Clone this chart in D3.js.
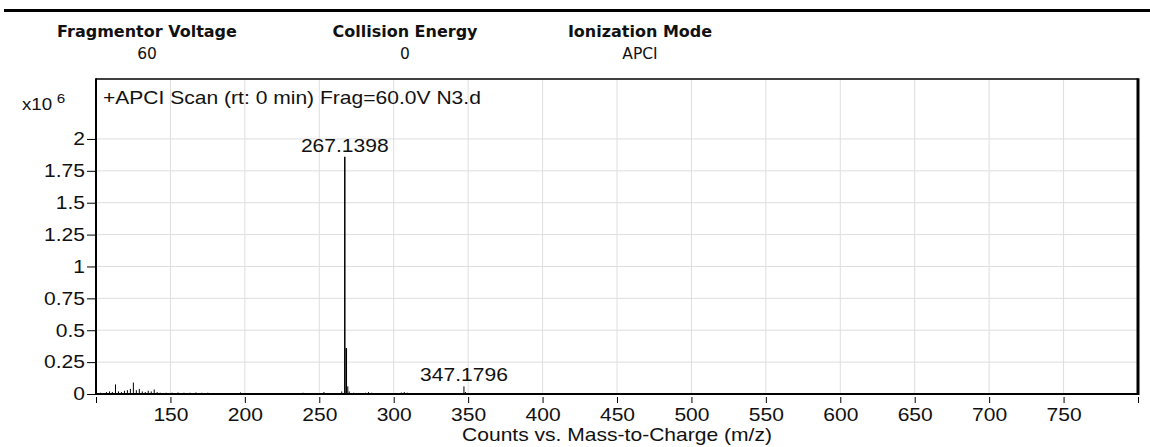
<!DOCTYPE html>
<html>
<head>
<meta charset="utf-8">
<script src="https://cdn.jsdelivr.net/npm/d3@7"></script>
<style>
body { margin: 0; background: #fff; }
text { font-family: "Liberation Sans", Arial, sans-serif; fill: #111; }
.head { font-family: "DejaVu Sans", Verdana, sans-serif; }
</style>
</head>
<body>
<svg id="svg" width="1150" height="447"></svg>
<script>
// acquisition parameters shown above the spectrum
var headNames  = ["Fragmentor Voltage", "Collision Energy", "Ionization Mode"],
    headValues = ["60", "0", "APCI"];

// centroid peaks: m/z and abundance (x10^6 counts)
var mz = [103.1, 107.0, 109.1, 111.0, 113.1, 115.1, 117.1, 119.1, 121.1, 123.1,
          125.1, 127.1, 129.1, 131.1, 133.1, 135.1, 137.1, 139.1, 141.1, 143.1,
          147.1, 151.1, 155.1, 159.1, 163.1, 167.1, 171.1, 175.1, 185.1, 197.1,
          239.1, 253.1, 265.1, 267.1398, 268.14, 269.14, 270.1, 273.1, 281.1, 283.1,
          285.1, 305.1, 307.1, 309.1, 347.1796, 348.2];
var counts = [0.010, 0.015, 0.020, 0.015, 0.075, 0.020, 0.015, 0.025, 0.030, 0.040,
              0.090, 0.030, 0.040, 0.020, 0.015, 0.025, 0.020, 0.035, 0.015, 0.010,
              0.010, 0.010, 0.012, 0.010, 0.010, 0.012, 0.010, 0.010, 0.008, 0.012,
              0.010, 0.015, 0.020, 1.860, 0.360, 0.060, 0.020, 0.010, 0.010, 0.015,
              0.010, 0.012, 0.015, 0.010, 0.060, 0.015];
var labelled = ["267.1398", "347.1796"];

var xTicks = [100, 150, 200, 250, 300, 350, 400, 450, 500, 550, 600, 650, 700, 750, 800],
    yTicks = [0, 0.25, 0.5, 0.75, 1, 1.25, 1.5, 1.75, 2];

var title  = "+APCI Scan (rt: 0 min) Frag=60.0V N3.d",
    xTitle = "Counts vs. Mass-to-Charge (m/z)";

var svg = d3.select("#svg");

var x0 = 96, x1 = 1138,
    y0 = 79, y1 = 394,
    sx = 1.17;   // the original text is drawn a bit wide

var x = d3.scaleLinear().domain([100, 800]).range([x0, x1]),
    y = d3.scaleLinear().domain([0, 2.47]).range([y1, y0]);

// header
svg.append("line").attr("x1", 4).attr("x2", 1150).attr("y1", 10.5).attr("y2", 10.5)
    .attr("stroke", "#000").attr("stroke-width", 3);
var hx = [147, 405, 640];
var head = svg.selectAll(".hd").data(headNames).enter().append("g")
    .attr("transform", (d, i) => "translate(" + hx[i] + ",0)");
head.append("text").attr("class", "head").attr("y", 37).attr("text-anchor", "middle")
    .attr("font-size", 16).attr("font-weight", "bold").text(d => d);
head.append("text").attr("class", "head").attr("y", 59).attr("text-anchor", "middle")
    .attr("font-size", 15.5).text((d, i) => headValues[i]);

// grid
svg.append("g").selectAll("line").data(xTicks.slice(1, -1)).enter().append("line")
    .attr("x1", d => x(d)).attr("x2", d => x(d)).attr("y1", y0).attr("y2", y1)
    .attr("stroke", "#dedede").attr("stroke-width", 1);
svg.append("g").selectAll("line").data(yTicks.slice(1)).enter().append("line")
    .attr("x1", x0).attr("x2", x1).attr("y1", d => y(d)).attr("y2", d => y(d))
    .attr("stroke", "#dedede").attr("stroke-width", 1);

// peaks
svg.append("g").selectAll("line").data(mz).enter().append("line")
    .attr("x1", d => x(d)).attr("x2", d => x(d))
    .attr("y1", y(0)).attr("y2", (d, i) => y(counts[i]))
    .attr("stroke", "#000").attr("stroke-width", (d, i) => counts[i] > 0.3 ? 1.5 : 1);

// peak labels
svg.append("g").selectAll("text").data(labelled).enter().append("text")
    .attr("transform", d => "translate(" + x(+d) + "," + (y(counts[mz.indexOf(+d)]) - 5) + ") scale(" + sx + ",1)")
    .attr("text-anchor", "middle").attr("font-size", 18).text(d => d);

// frame
svg.append("line").attr("x1", x0).attr("x2", x1).attr("y1", y0).attr("y2", y0).attr("stroke", "#000").attr("stroke-width", 1.5);
svg.append("line").attr("x1", x1).attr("x2", x1).attr("y1", y0 - 0.75).attr("y2", y1 + 1).attr("stroke", "#000").attr("stroke-width", 3);

// axes
var xa = svg.append("g").attr("transform", "translate(0," + (y1 + 3) + ")")
    .call(d3.axisBottom(x).tickValues(xTicks).tickSize(6).tickSizeOuter(0).tickPadding(5)
        .tickFormat(d => (d === 100 || d === 800) ? "" : d));
xa.select(".domain").remove();
xa.selectAll("line").attr("stroke", "#000");
xa.selectAll("text").attr("font-size", 18).attr("font-family", null).attr("fill", "#111")
    .attr("transform", "scale(" + sx + ",1)");

var ya = svg.append("g").attr("transform", "translate(" + x0 + ",0)")
    .call(d3.axisLeft(y).tickValues(yTicks).tickSize(9).tickSizeOuter(0).tickFormat(d => d));
ya.select(".domain").remove();
ya.selectAll("line").attr("stroke", "#000");
ya.selectAll("text").attr("font-size", 18).attr("font-family", null).attr("fill", "#111")
    .attr("x", 0).attr("transform", "translate(-11,0) scale(" + sx + ",1)");

svg.append("line").attr("x1", x0).attr("x2", x0).attr("y1", y0 - 0.75).attr("y2", y1 + 1).attr("stroke", "#000").attr("stroke-width", 2);
svg.append("line").attr("x1", x0).attr("x2", x1).attr("y1", y1).attr("y2", y1).attr("stroke", "#000").attr("stroke-width", 2);

// titles
svg.append("text").attr("transform", "translate(103,104) scale(" + sx + ",1)")
    .attr("font-size", 18).text(title);
svg.append("text").attr("transform", "translate(" + ((x0 + x1) / 2) + ",441) scale(" + sx + ",1)")
    .attr("text-anchor", "middle").attr("font-size", 18).text(xTitle);

var mult = svg.append("text").attr("transform", "translate(22,110) scale(" + sx + ",1)").attr("font-size", 16);
mult.append("tspan").text("x10");
mult.append("tspan").attr("dx", 4).attr("dy", -7).attr("font-size", 13).text("6");
</script>
</body>
</html>
